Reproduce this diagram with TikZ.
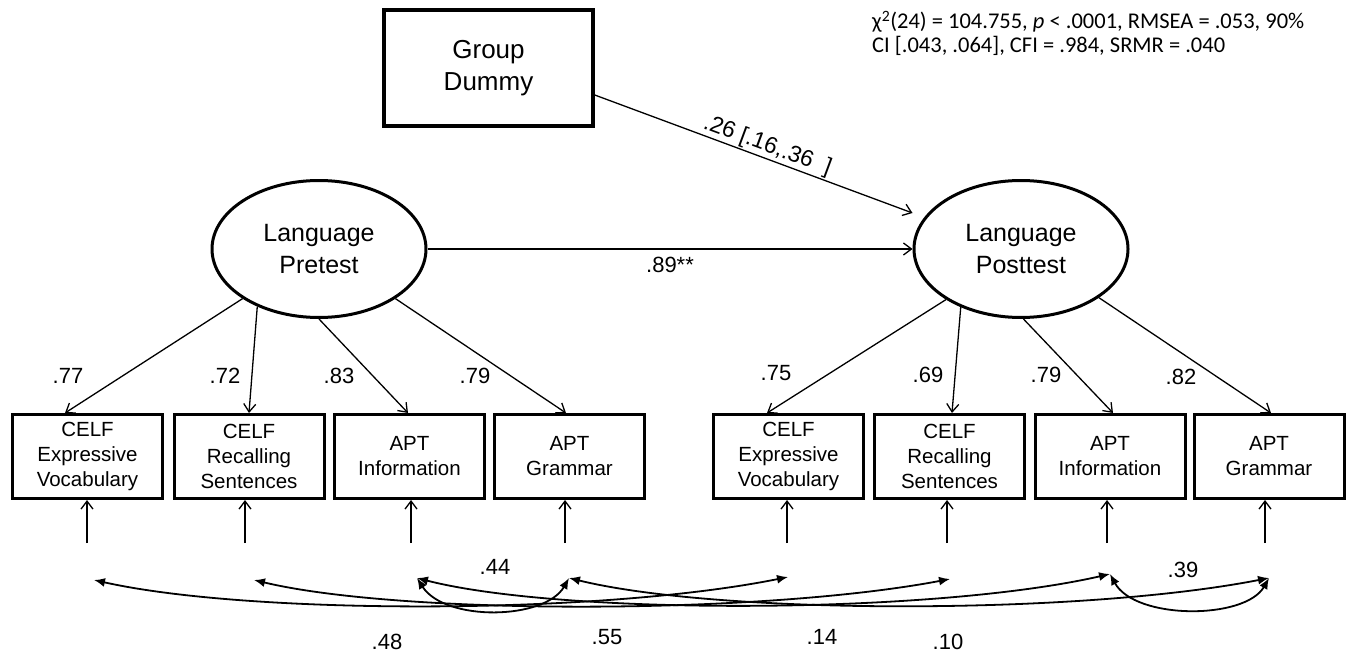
\documentclass[tikz,border=0pt]{standalone}
\usepackage{fontspec}
\setmainfont{Liberation Sans}
\newfontfamily\fitfont{Carlito}
\usetikzlibrary{arrows.meta,shapes.geometric,calc}
\tikzset{
  obs/.style={draw, line width=3pt, minimum width=150pt, minimum height=84pt, inner sep=0pt, align=center, font=\fontsize{20.5}{25}\selectfont},
  lat/.style={draw, ellipse, line width=3pt, minimum width=214pt, minimum height=137pt, inner sep=0pt, align=center, font=\fontsize{25}{32}\selectfont},
  grp/.style={draw, line width=3.5pt, minimum width=209pt, minimum height=116pt, inner sep=0pt, align=center, font=\fontsize{26}{32}\selectfont},
  load/.style={line width=1.3pt, -{Straight Barb[length=8pt,width=12pt]}},
  cov/.style={line width=1.8pt, {Latex[length=11pt,width=9pt]}-{Latex[length=11pt,width=9pt]}},
  coef/.style={font=\fontsize{22}{22}\selectfont, inner sep=0pt},
  fit/.style={anchor=base west, inner sep=0pt, font=\fitfont\fontsize{22.5}{25}\selectfont},
}
\begin{document}
\begin{tikzpicture}[x=1pt,y=-1pt]
\useasboundingbox (0,0) rectangle (1357,658);

% fit text
\node[fit] (fit1) at (872,29) {χ\textsuperscript{2}(24) = 104.755, \textit{p} < .0001, RMSEA = .053, 90\%};
\node[fit] (fit2) at (872,53) {CI [.043, .064], CFI = .984, SRMR = .040};

% group dummy and latent variables
\node[grp] (gd) at (488.5,68) {Group\\Dummy};
\node[lat] (pre) at (319,249) {Language\\Pretest};
\node[lat] (post) at (1021,249) {Language\\Posttest};

% observed indicators
\node[obs] (b1) at (87.5,456.5) {CELF\\Expressive\\Vocabulary};
\node[obs] (b2) at (249,456.5) {CELF\\Recalling\\Sentences};
\node[obs] (b3) at (409.5,456.5) {APT\\Information};
\node[obs] (b4) at (569.5,456.5) {APT\\Grammar};
\node[obs] (b5) at (788.5,456.5) {CELF\\Expressive\\Vocabulary};
\node[obs] (b6) at (949.5,456.5) {CELF\\Recalling\\Sentences};
\node[obs] (b7) at (1110,456.5) {APT\\Information};
\node[obs] (b8) at (1269,456.5) {APT\\Grammar};

% structural paths
\draw[load] ([yshift=-27pt]gd.east) -- node[pos=0.53, sloped, above=1pt, inner sep=0pt, font=\fontsize{23}{23}\selectfont] (l26) {.26 [.16,.36\ \ ]} ([yshift=36pt]post.west);
\draw[load] (pre.east) -- node[midway, below=7pt, coef] (l89) {.89**} (post.west);

% loadings
\draw[load] (pre.213) -- ([xshift=-22.5pt]b1.north);
\draw[load] (pre.223) -- (b2.north);
\draw[load] (pre.270) -- ([xshift=-1.5pt]b3.north);
\draw[load] (pre.327) -- ([xshift=-3.5pt]b4.north);
\draw[load] (post.214) -- ([xshift=-21.5pt]b5.north);
\draw[load] (post.224) -- ([xshift=2.5pt]b6.north);
\draw[load] (post.272) -- ([xshift=3pt]b7.north);
\draw[load] (post.328) -- ([xshift=2pt]b8.north);

\node[coef] (l1) at (68,376) {.77};
\node[coef] (l2) at (225,376) {.72};
\node[coef] (l3) at (339,376) {.83};
\node[coef] (l4) at (475,376) {.79};
\node[coef] (l5) at (776,373) {.75};
\node[coef] (l6) at (928,375) {.69};
\node[coef] (l7) at (1046,375) {.79};
\node[coef] (l8) at (1181,377) {.82};

% error arrows
\coordinate (e1) at (87,543);
\coordinate (e2) at (245,543);
\coordinate (e3) at (411,543);
\coordinate (e4) at (565,543);
\coordinate (e5) at (787,543);
\coordinate (e6) at (947,543);
\coordinate (e7) at (1107,543);
\coordinate (e8) at (1265,543);
\foreach \i in {1,...,8} { \draw[load] (e\i) -- (e\i |- b\i.south); }

% residual covariances
\coordinate (t1) at (94,580);
\coordinate (t2) at (254,580);
\coordinate (t3) at (417,578);
\coordinate (t4) at (569,578);
\coordinate (t5) at (788,577);
\coordinate (t6) at (950,579);
\coordinate (t7) at (1110,574);
\coordinate (t8) at (1269,578);
\draw[cov] (t1) .. controls +(156,35) and +(-188,38) .. (t5);
\draw[cov] (t2) .. controls +(146,35) and +(-190,36) .. (t6);
\draw[cov] (t3) .. controls +(143,37) and +(-180,41) .. (t7);
\draw[cov] (t4) .. controls +(151,37) and +(-189,37) .. (t8);
\draw[cov] (t3) .. controls +(28,44) and +(-24,42) .. (t4);
\draw[cov] (t7) .. controls +(25,46) and +(-24,42) .. (t8);

\node[coef] (c44) at (495,567) {.44};
\node[coef] (c39) at (1183,570) {.39};
\node[coef] (c48) at (387,642) {.48};
\node[coef] (c55) at (607,637) {.55};
\node[coef] (c14) at (822,637) {.14};
\node[coef] (c10) at (948,642) {.10};
\end{tikzpicture}
\end{document}
